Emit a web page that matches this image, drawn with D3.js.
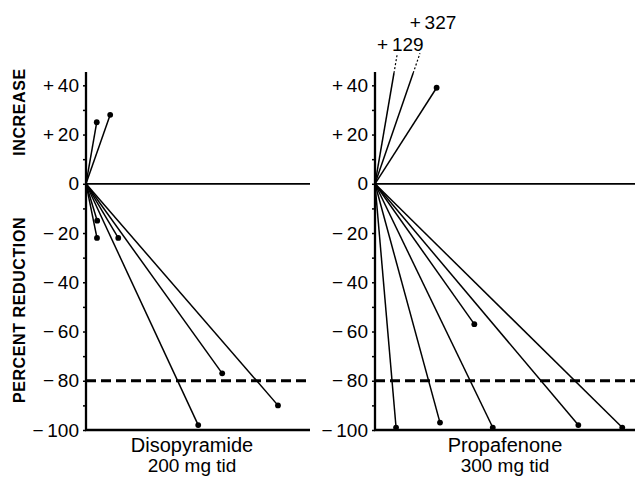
<!DOCTYPE html>
<html>
<head>
<meta charset="utf-8">
<script src="https://cdn.jsdelivr.net/npm/d3@7"></script>
<style>
  body { margin: 0; background: #fff; }
  svg { font-family: "Liberation Sans", Arial, sans-serif; }
</style>
</head>
<body>
<svg id="CANVAS" width="635" height="477"></svg>
<script>
// ticks on the y axis (same for both panels)
var tickValues = [40, 20, 0, -20, -40, -60, -80, -100];
var tickLabels = ["+\u200940", "+\u200920", "0", "\u2212\u200920", "\u2212\u200940", "\u2212\u200960", "\u2212\u200980", "\u2212\u2009100"];
var minorTicks = [30, 10, -10, -30, -50, -70, -90];
var threshold = -80;

// patients, x is just a spread position (0-100 across the panel)
var disoX = [4.8, 10.8, 5.0, 4.9, 14.4, 60.8, 85.7, 50.1];
var disoY = [25, 28, -15, -22, -22, -77, -90, -98];

var propX = [23.7, 38.2, 8.1, 25, 45.3, 78.2, 95.1];
var propY = [39, -57, -99, -97, -99, -98, -99];

// off-scale increases
var offLabels = ["+129", "+327"];
var offX = [8.6, 17.3];
var offCap = 53;     // where the drawn line stops
var offSolid = 45;   // solid part, dotted beyond

var drugNames = ["Disopyramide", "Propafenone"];
var doses = ["200 mg tid", "300 mg tid"];

var W = 635, H = 477;
var svg = d3.select("#CANVAS");

var y = d3.scaleLinear().domain([-100, 45]).range([430, 73]);

var panels = [
    { x0: 86, x1: 310, xs: disoX, ys: disoY, name: drugNames[0], dose: doses[0], labelX: 192 },
    { x0: 375, x1: 635, xs: propX, ys: propY, name: drugNames[1], dose: doses[1], labelX: 505 }
];

panels.forEach(function (p, pi) {
    var x = d3.scaleLinear().domain([0, 100]).range([p.x0, p.x1]);
    var g = svg.append("g");

    // zero line
    g.append("line")
        .attr("x1", x(0)).attr("x2", x(100))
        .attr("y1", y(0)).attr("y2", y(0))
        .attr("stroke", "#000").attr("stroke-width", 1.7);

    // -80 dashed line
    g.append("line")
        .attr("x1", x(0)).attr("x2", x(100))
        .attr("y1", y(threshold)).attr("y2", y(threshold))
        .attr("stroke", "#000").attr("stroke-width", 3)
        .attr("stroke-dasharray", "10,5");

    // patient lines
    var pts = p.xs.map(function (d, i) { return { x: d, y: p.ys[i] }; });
    g.selectAll("line.pt").data(pts).enter().append("line")
        .attr("class", "pt")
        .attr("x1", x(0)).attr("y1", y(0))
        .attr("x2", function (d) { return x(d.x); })
        .attr("y2", function (d) { return y(d.y); })
        .attr("stroke", "#000").attr("stroke-width", 1.5);
    g.selectAll("circle.pt").data(pts).enter().append("circle")
        .attr("class", "pt")
        .attr("cx", function (d) { return x(d.x); })
        .attr("cy", function (d) { return y(d.y); })
        .attr("r", 2.9).attr("fill", "#000");

    // off-scale lines (right panel only)
    if (pi == 1) {
        offX.forEach(function (ox, i) {
            var f = offSolid / offCap;
            g.append("line")
                .attr("x1", x(0)).attr("y1", y(0))
                .attr("x2", x(ox * f)).attr("y2", y(offSolid))
                .attr("stroke", "#000").attr("stroke-width", 1.5);
            g.append("line")
                .attr("x1", x(ox * f)).attr("y1", y(offSolid))
                .attr("x2", x(ox)).attr("y2", y(offCap))
                .attr("stroke", "#000").attr("stroke-width", 1.2)
                .attr("stroke-dasharray", "2,2");
            g.append("text")
                .attr("x", x(ox) + 3 + i * 10)
                .attr("y", y(offCap) - 2 - i * 22)
                .attr("text-anchor", "middle")
                .attr("font-size", 19)
                .text(offLabels[i].replace("+", "+\u2009"));
        });
    }

    // axes
    var yAxis = d3.axisLeft(y)
        .tickValues(tickValues)
        .tickFormat(function (d, i) { return tickLabels[i]; })
        .tickSize(3).tickPadding(4);
    var ag = g.append("g").attr("transform", "translate(" + x(0) + ",0)").call(yAxis);
    ag.select(".domain").remove();
    ag.selectAll("text").attr("font-size", 19).attr("font-family", "Liberation Sans, Arial, sans-serif").attr("fill", "#000");
    ag.selectAll("line").attr("stroke-width", 1.5);

    var mg = g.append("g").attr("transform", "translate(" + x(0) + ",0)")
        .call(d3.axisLeft(y).tickValues(minorTicks).tickFormat("").tickSize(3));
    mg.select(".domain").remove();
    mg.selectAll("line").attr("stroke-width", 1.5);

    g.append("line")
        .attr("x1", x(0)).attr("x2", x(0))
        .attr("y1", y(45) - 1).attr("y2", y(-100) + 1)
        .attr("stroke", "#000").attr("stroke-width", 2.3);
    g.append("line")
        .attr("x1", x(0) - 1).attr("x2", x(100))
        .attr("y1", y(-100)).attr("y2", y(-100))
        .attr("stroke", "#000").attr("stroke-width", 2.3);

    // drug label
    g.append("text").attr("x", p.labelX).attr("y", 452)
        .attr("text-anchor", "middle").attr("font-size", 20).text(p.name);
    g.append("text").attr("x", p.labelX).attr("y", 472)
        .attr("text-anchor", "middle").attr("font-size", 19).text(p.dose);
});

// y titles
svg.append("text")
    .attr("transform", "translate(25,112) rotate(-90)")
    .attr("text-anchor", "middle").attr("font-size", 16).attr("font-weight", "bold")
    .attr("letter-spacing", 0.6)
    .text("INCREASE");
svg.append("text")
    .attr("transform", "translate(25,310) rotate(-90)")
    .attr("text-anchor", "middle").attr("font-size", 16).attr("font-weight", "bold")
    .attr("letter-spacing", 0.6)
    .text("PERCENT REDUCTION");
</script>
</body>
</html>
